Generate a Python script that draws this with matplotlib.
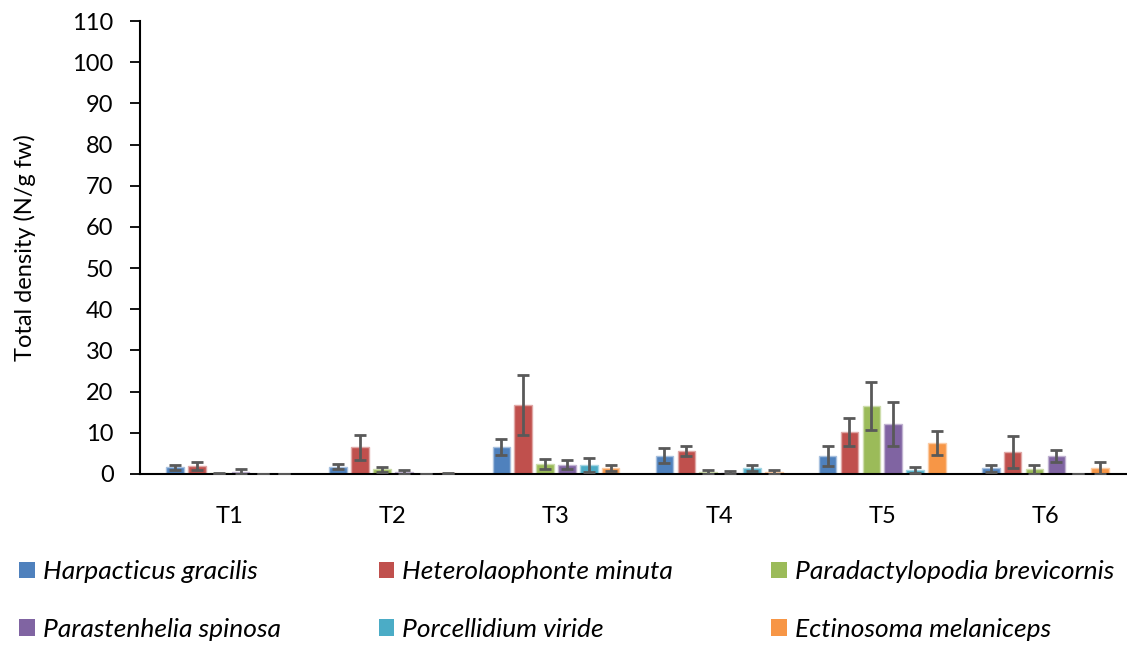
import numpy as np
import matplotlib.pyplot as plt
from matplotlib.patches import Patch
import matplotlib.colors as mcolors

plt.rcParams['font.family'] = ['Lato', 'DejaVu Sans']

# data
sites = ["T1", "T2", "T3", "T4", "T5", "T6"]
species = ["Harpacticus gracilis", "Heterolaophonte minuta", "Paradactylopodia brevicornis",
           "Parastenhelia spinosa", "Porcellidium viride", "Ectinosoma melaniceps"]
colors = ["#4F81BD", "#C0504D", "#9BBB59", "#8064A2", "#4BACC6", "#F79646"]

harpacticus = [1.6, 1.8, 6.5, 4.4, 4.4, 1.4]
heterolaophonte = [1.9, 6.5, 16.7, 5.6, 10.2, 5.3]
paradactylopodia = [0.2, 1.1, 2.5, 0.5, 16.5, 1.2]
parastenhelia = [0.6, 0.5, 2.2, 0.3, 12.1, 4.4]
porcellidium = [0.1, 0.1, 2.3, 1.4, 1.0, 0.1]
ectinosoma = [0.1, 0.2, 1.4, 0.5, 7.5, 1.5]

harpacticus_err = [0.7, 0.7, 2.0, 1.8, 2.5, 0.8]
heterolaophonte_err = [0.9, 3.0, 7.3, 1.3, 3.5, 3.9]
paradactylopodia_err = [0.1, 0.6, 1.2, 0.5, 5.8, 1.1]
parastenhelia_err = [0.6, 0.5, 1.1, 0.4, 5.4, 1.4]
porcellidium_err = [0.0, 0.0, 1.7, 0.7, 0.7, 0.0]
ectinosoma_err = [0.0, 0.1, 0.7, 0.4, 2.9, 1.4]

values = [harpacticus, heterolaophonte, paradactylopodia, parastenhelia, porcellidium, ectinosoma]
errors = [harpacticus_err, heterolaophonte_err, paradactylopodia_err,
          parastenhelia_err, porcellidium_err, ectinosoma_err]

fig = plt.figure(figsize=(11.27, 6.45), dpi=100)
ax = fig.add_axes([140 / 1127, 171 / 645, 987 / 1127, 453 / 645])

x = np.arange(len(sites))
slot = 0.134
width = 0.108
for i in range(len(species)):
    pos = x + (i - 2.5) * slot
    light = mcolors.to_rgb(colors[i])
    light = tuple(c + (1 - c) * 0.5 for c in light)
    ax.bar(pos, values[i], width, color=colors[i], edgecolor=light, linewidth=1, zorder=2)
    ax.errorbar(pos, values[i], yerr=errors[i], fmt='none', ecolor='#595959',
                elinewidth=2, capsize=4.5, capthick=2, zorder=3)

ax.set_xlim(-0.55, 5.5)
ax.set_ylim(0, 110)
ax.set_yticks(range(0, 111, 10))
ax.set_xticks(x)
ax.set_xticklabels(sites)
ax.tick_params(axis='y', labelsize=17, length=7, width=1.3, direction='out', pad=12)
ax.tick_params(axis='x', labelsize=17, length=0, pad=23)
ax.spines['top'].set_visible(False)
ax.spines['right'].set_visible(False)
ax.spines['left'].set_linewidth(1.5)
ax.spines['bottom'].set_linewidth(1.5)
ax.set_ylabel("Total density (N/g fw)", fontsize=17, labelpad=26)

handles = [Patch(facecolor=c) for c in colors]
order = [0, 3, 1, 4, 2, 5]
fig.legend([handles[k] for k in order], [species[k] for k in order], ncol=3,
           loc='lower left', bbox_to_anchor=(-0.004, -0.03), frameon=False,
           prop={'size': 19, 'style': 'italic'}, handlelength=0.6, handleheight=0.6,
           handletextpad=0.3, labelspacing=1.3, columnspacing=3.7)

fig.savefig("out.png", dpi=100)
